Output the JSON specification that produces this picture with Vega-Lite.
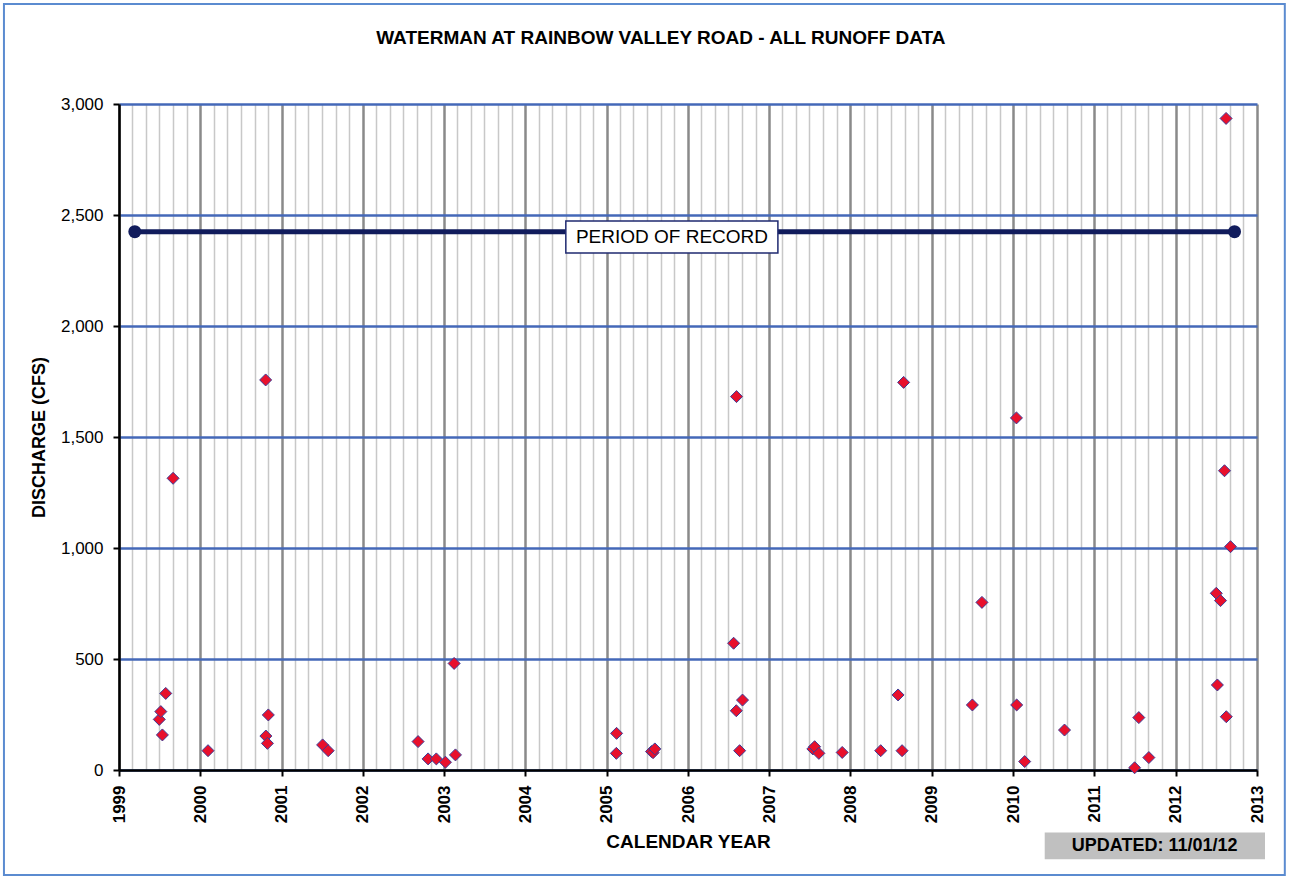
{
  "$schema": "https://vega.github.io/schema/vega-lite/v6.json",
  "width": 1138,
  "height": 666,
  "autosize": {"type": "none"},
  "padding": {"left": 119, "top": 104, "right": 32, "bottom": 107},
  "background": "white",
  "config": {"font": "Liberation Sans", "view": {"stroke": null}},
  "datasets": {
    "samples": [
      {"date": "1999-07-01", "value": 228},
      {"date": "1999-07-08", "value": 263},
      {"date": "1999-07-15", "value": 158},
      {"date": "1999-07-30", "value": 345},
      {"date": "1999-09-01", "value": 1314},
      {"date": "2000-02-05", "value": 87},
      {"date": "2000-10-21", "value": 1757},
      {"date": "2000-10-22", "value": 153},
      {"date": "2000-10-29", "value": 120},
      {"date": "2000-11-02", "value": 248},
      {"date": "2001-07-04", "value": 113},
      {"date": "2001-07-29", "value": 87},
      {"date": "2002-09-06", "value": 128},
      {"date": "2002-10-21", "value": 50},
      {"date": "2002-11-27", "value": 50},
      {"date": "2003-01-07", "value": 35},
      {"date": "2003-02-15", "value": 480},
      {"date": "2003-02-21", "value": 68},
      {"date": "2005-02-14", "value": 165},
      {"date": "2005-02-13", "value": 75},
      {"date": "2005-07-21", "value": 83},
      {"date": "2005-07-28", "value": 78},
      {"date": "2005-08-05", "value": 95},
      {"date": "2006-07-25", "value": 571},
      {"date": "2006-08-07", "value": 1682},
      {"date": "2006-08-06", "value": 267},
      {"date": "2006-08-21", "value": 87},
      {"date": "2006-09-03", "value": 315},
      {"date": "2007-07-16", "value": 95},
      {"date": "2007-07-24", "value": 105},
      {"date": "2007-08-12", "value": 75},
      {"date": "2007-11-25", "value": 79},
      {"date": "2008-05-16", "value": 87},
      {"date": "2008-08-02", "value": 338},
      {"date": "2008-08-20", "value": 87},
      {"date": "2008-08-27", "value": 1746},
      {"date": "2009-07-02", "value": 293},
      {"date": "2009-08-14", "value": 755},
      {"date": "2010-01-16", "value": 1586},
      {"date": "2010-01-17", "value": 293},
      {"date": "2010-02-22", "value": 38},
      {"date": "2010-08-20", "value": 180},
      {"date": "2011-07-01", "value": 10},
      {"date": "2011-07-20", "value": 236},
      {"date": "2011-09-03", "value": 56},
      {"date": "2012-07-02", "value": 796},
      {"date": "2012-07-07", "value": 383},
      {"date": "2012-07-21", "value": 763},
      {"date": "2012-08-08", "value": 1348},
      {"date": "2012-08-15", "value": 2935},
      {"date": "2012-08-16", "value": 240},
      {"date": "2012-09-04", "value": 1006}
    ],
    "period": [
      {"date": "1999-03-13", "value": 2425},
      {"date": "2012-09-22", "value": 2425}
    ]
  },
  "layer": [
    {
      "data": {"name": "samples"},
      "mark": {"type": "point", "shape": "diamond", "filled": true, "size": 144, "fill": "#e8102c", "stroke": "#3c3c96", "strokeWidth": 1, "opacity": 1},
      "encoding": {
        "x": {
          "field": "date", "type": "temporal",
          "scale": {"type": "utc", "domain": [{"year": 1999, "month": 1, "date": 1, "utc": true}, {"year": 2013, "month": 1, "date": 1, "utc": true}]},
          "axis": {
            "tickCount": {"interval": "month", "step": 2},
            "labelExpr": "utcmonth(datum.value) === 0 ? utcFormat(datum.value, '%Y') : ''",
            "grid": true,
            "gridColor": {"condition": {"test": "utcmonth(datum.value) === 0", "value": "#8a8a8a"}, "value": "#c8c8c8"},
            "gridWidth": {"condition": {"test": "utcmonth(datum.value) === 0", "value": 2.5}, "value": 1.5},
            "tickOpacity": {"condition": {"test": "utcmonth(datum.value) === 0", "value": 1}, "value": 0},
            "domainColor": "#000000", "domainWidth": 2.5, "tickColor": "#000000", "tickWidth": 2, "tickSize": 6,
            "labelAngle": 270, "labelFont": "Liberation Sans", "labelFontSize": 17, "labelFontWeight": "bold", "labelColor": "#000000",
            "labelPadding": 9, "labelFlush": false, "labelOverlap": false, "labelBound": false,
            "title": "CALENDAR YEAR", "titleFont": "Liberation Sans", "titleFontSize": 19, "titleFontWeight": "bold", "titleColor": "#000000", "titlePadding": 10
          }
        },
        "y": {
          "field": "value", "type": "quantitative",
          "scale": {"domain": [0, 3000], "nice": false},
          "axis": {
            "values": [0, 500, 1000, 1500, 2000, 2500, 3000],
            "labelExpr": "format(datum.value, ',')",
            "grid": true, "gridColor": "#4468b8", "gridWidth": 2.5,
            "domainColor": "#000000", "domainWidth": 2.5, "tickColor": "#000000", "tickWidth": 2, "tickSize": 6,
            "labelFont": "Liberation Sans", "labelFontSize": 17, "labelColor": "#000000", "labelPadding": 10, "labelFlush": false,
            "title": "DISCHARGE (CFS)", "titleFont": "Liberation Sans", "titleFontSize": 18, "titleFontWeight": "bold", "titleColor": "#000000", "titlePadding": 12
          }
        }
      }
    },
    {
      "data": {"name": "period"},
      "mark": {"type": "line", "color": "#111c5c", "strokeWidth": 5},
      "encoding": {
        "x": {"field": "date", "type": "temporal"},
        "y": {"field": "value", "type": "quantitative"}
      }
    },
    {
      "data": {"name": "period"},
      "mark": {"type": "point", "shape": "circle", "filled": true, "size": 169, "color": "#111c5c", "opacity": 1},
      "encoding": {
        "x": {"field": "date", "type": "temporal"},
        "y": {"field": "value", "type": "quantitative"}
      }
    },
    {
      "data": {"values": [{}]},
      "mark": {"type": "rect", "fill": "#ffffff", "stroke": "#1f2a70", "strokeWidth": 1.5},
      "encoding": {
        "x": {"datum": {"year": 2004, "month": 7, "date": 1, "utc": true}, "type": "temporal"},
        "x2": {"datum": {"year": 2007, "month": 2, "date": 9, "utc": true}},
        "y": {"datum": 2473, "type": "quantitative"},
        "y2": {"datum": 2329}
      }
    },
    {
      "data": {"values": [{}]},
      "mark": {"type": "text", "text": "PERIOD OF RECORD", "font": "Liberation Sans", "fontSize": 19, "color": "#000000", "align": "center", "baseline": "middle"},
      "encoding": {
        "x": {"datum": {"year": 2005, "month": 10, "date": 21, "utc": true}, "type": "temporal"},
        "y": {"datum": 2401, "type": "quantitative"}
      }
    },
    {
      "data": {"values": [{}]},
      "mark": {"type": "text", "text": "WATERMAN AT RAINBOW VALLEY ROAD - ALL RUNOFF DATA", "font": "Liberation Sans", "fontSize": 19, "fontWeight": "bold", "color": "#000000", "align": "center", "baseline": "middle"},
      "encoding": {
        "x": {"datum": {"year": 2005, "month": 9, "date": 1, "utc": true}, "type": "temporal"},
        "y": {"datum": 3297, "type": "quantitative"}
      }
    },
    {
      "data": {"values": [{}]},
      "mark": {"type": "rect", "fill": "#c0c0c0"},
      "encoding": {
        "x": {"datum": {"year": 2010, "month": 5, "date": 23, "utc": true}, "type": "temporal"},
        "x2": {"datum": {"year": 2013, "month": 2, "date": 6, "utc": true}},
        "y": {"datum": -282, "type": "quantitative"},
        "y2": {"datum": -402}
      }
    },
    {
      "data": {"values": [{}]},
      "mark": {"type": "text", "text": "UPDATED: 11/01/12", "font": "Liberation Sans", "fontSize": 18, "fontWeight": "bold", "color": "#000000", "align": "center", "baseline": "middle"},
      "encoding": {
        "x": {"datum": {"year": 2011, "month": 9, "date": 29, "utc": true}, "type": "temporal"},
        "y": {"datum": -342, "type": "quantitative"}
      }
    },
    {
      "data": {"values": [{}]},
      "mark": {"type": "rect", "fill": null, "fillOpacity": 0, "stroke": "#5b8bd0", "strokeWidth": 2},
      "encoding": {
        "x": {"datum": {"year": 1997, "month": 8, "date": 2, "utc": true}, "type": "temporal"},
        "x2": {"datum": {"year": 2013, "month": 5, "date": 6, "utc": true}},
        "y": {"datum": 3450, "type": "quantitative"},
        "y2": {"datum": -473}
      }
    }
  ]
}
